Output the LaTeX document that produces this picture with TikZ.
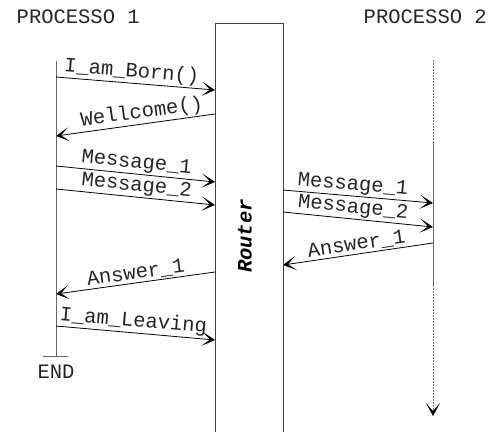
\documentclass[tikz,border=0pt]{standalone}
\usepackage{fontspec}
\setmonofont{Liberation Mono}
\usetikzlibrary{arrows.meta}
\begin{document}
\begin{tikzpicture}[x=1pt,y=-1pt,
  lbl/.style={font=\ttfamily\fontsize{20.5}{22}\selectfont, inner sep=1.5pt, text=black!85},
  tip/.style={-{Stealth[length=13pt,width=14pt,inset=8pt]}},
  msg/.style={tip, line width=0.8pt, black},
  life/.style={draw=black!60, line width=1pt},
  dotline/.style={draw=black!55, line width=1pt, dash pattern=on 2pt off 1pt}]
\useasboundingbox (0,0) rectangle (499,432);
% titles
\node[lbl, anchor=base west] (t1) at (15,23) {PROCESSO 1};
\node[lbl, anchor=base west] (t2) at (362,23) {PROCESSO 2};
% router box
\coordinate (rbl) at (215,432);
\coordinate (rtl) at (215,23);
\coordinate (rtr) at (283,23);
\coordinate (rbr) at (283,432);
\draw[line width=1pt, black!75] (rbl) -- (rtl) -- (rtr) -- (rbr);
\node[font=\ttfamily\bfseries\itshape\fontsize{20.5}{22}\selectfont, rotate=90, inner sep=0pt] (router) at (245,236) {Router};
% process 1 lifeline
\coordinate (p1top) at (56,61);
\coordinate (p1end) at (56,356);
\coordinate (tickl) at (43,356);
\coordinate (tickr) at (68,356);
\draw[life] (p1top) -- (p1end);
\draw[life] (tickl) -- (tickr);
\node[lbl, anchor=base] (end) at (56,378) {END};
% process 2 lifeline
\coordinate (p2top) at (433,60);
\coordinate (p2a) at (433,142);
\coordinate (p2b) at (433,285);
\coordinate (p2end) at (433,416);
\draw[dotline] (p2top) -- (p2a);
\draw[life] (p2a) -- (p2b);
\draw[dotline, -{Stealth[length=13pt,width=14pt,inset=8pt,black]}] (p2b) -- (p2end);
% message endpoints
\coordinate (a1) at (56,77);   \coordinate (b1) at (215,90);
\coordinate (a2) at (215,114); \coordinate (b2) at (56,136);
\coordinate (a3) at (56,166);  \coordinate (b3) at (215,182);
\coordinate (a4) at (56,189);  \coordinate (b4) at (215,205);
\coordinate (a5) at (283,190); \coordinate (b5) at (433,203);
\coordinate (a6) at (283,212); \coordinate (b6) at (433,227);
\coordinate (a7) at (433,243); \coordinate (b7) at (283,265);
\coordinate (a8) at (215,272); \coordinate (b8) at (56,294);
\coordinate (a9) at (56,326);  \coordinate (b9) at (215,340);
\draw[msg] (a1) -- node[lbl, sloped, above, pos=0.47] {I\_am\_Born()} (b1);
\draw[msg] (a2) -- node[lbl, sloped, above, pos=0.45] {Wellcome()} (b2);
\draw[msg] (a3) -- node[lbl, sloped, above, pos=0.5] {Message\_1} (b3);
\draw[msg] (a4) -- node[lbl, sloped, above, pos=0.5] {Message\_2} (b4);
\draw[msg] (a5) -- node[lbl, sloped, above, pos=0.46] {Message\_1} (b5);
\draw[msg] (a6) -- node[lbl, sloped, above, pos=0.46] {Message\_2} (b6);
\draw[msg] (a7) -- node[lbl, sloped, above, pos=0.5] {Answer\_1} (b7);
\draw[msg] (a8) -- node[lbl, sloped, above, pos=0.49] {Answer\_1} (b8);
\draw[msg] (a9) -- node[lbl, sloped, above, pos=0.48] {I\_am\_Leaving} (b9);
\end{tikzpicture}
\end{document}
